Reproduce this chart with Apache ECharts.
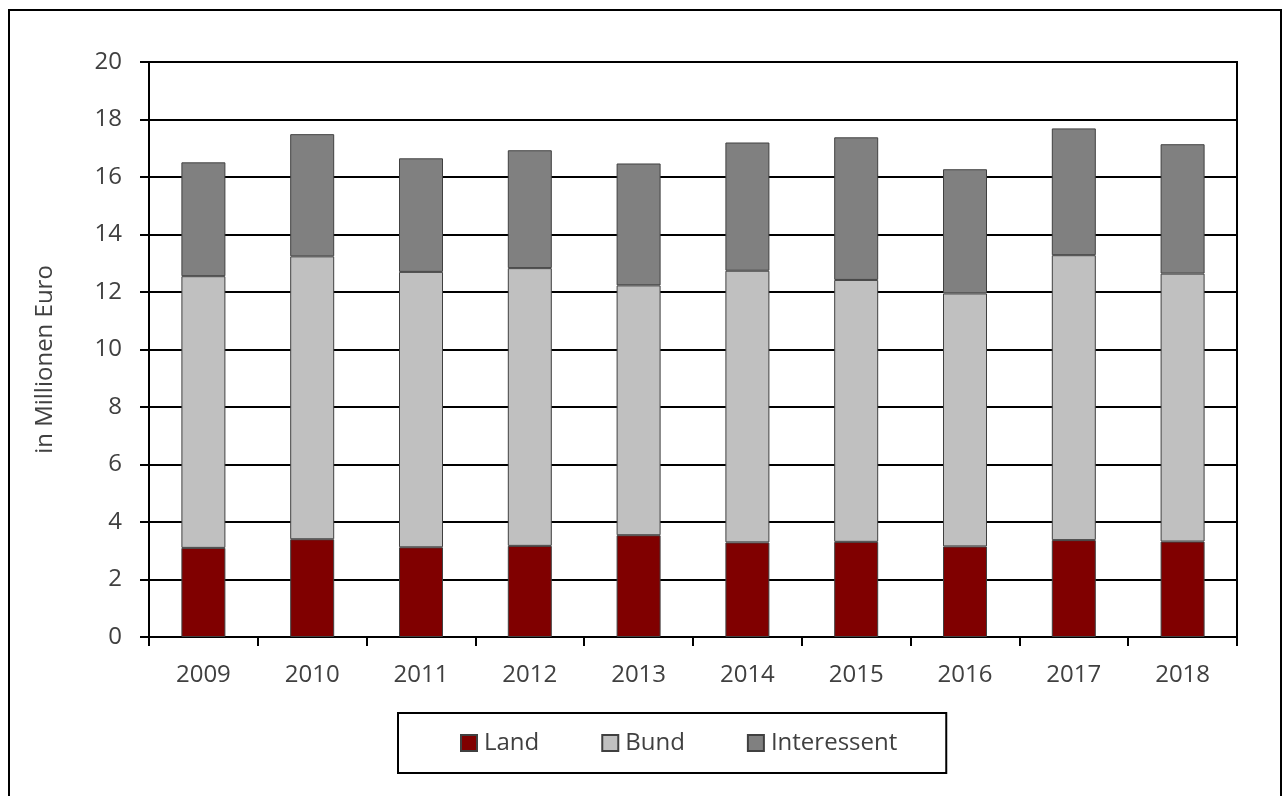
<!DOCTYPE html>
<html>
<head>
<meta charset="utf-8">
<script src="https://cdn.jsdelivr.net/npm/echarts@6/dist/echarts.min.js"></script>
<style>
html,body{margin:0;padding:0;background:#fff;}
#chart{width:1288px;height:796px;}
</style>
</head>
<body>
<div id="chart"></div>
<script>
const years = ['2009','2010','2011','2012','2013','2014','2015','2016','2017','2018'];
const land = [3.10, 3.40, 3.12, 3.17, 3.54, 3.29, 3.31, 3.15, 3.37, 3.32];
const bund = [9.45, 9.84, 9.58, 9.66, 8.69, 9.45, 9.11, 8.80, 9.91, 9.32];
const interessent = [3.96, 4.25, 3.95, 4.10, 4.24, 4.46, 4.96, 4.32, 4.41, 4.50];
const seriesNames = ['Land', 'Bund', 'Interessent'];
const yAxisName = 'in Millionen Euro';

const FONT = '"Open Sans", "Liberation Sans", sans-serif';
const TXT = '#404040';
const colors = ['#800000', '#C0C0C0', '#808080'];
const values = [land, bund, interessent];

const chart = echarts.init(document.getElementById('chart'), null, {renderer: 'canvas'});
chart.setOption({
  animation: false,
  backgroundColor: '#fff',
  graphic: [{
    type: 'rect',
    shape: {x: 9, y: 10, width: 1272, height: 820},
    style: {fill: 'none', stroke: '#000', lineWidth: 2},
    silent: true
  }],
  grid: {
    left: 149, top: 62, right: 51, bottom: 159,
    show: true, borderColor: '#000', borderWidth: 2, backgroundColor: 'transparent'
  },
  legend: {
    data: seriesNames,
    left: 398, top: 713,
    padding: [18, 49, 18, 62],
    borderColor: '#000', borderWidth: 2,
    itemWidth: 16, itemHeight: 16, itemGap: 62,
    icon: 'rect',
    textStyle: {fontFamily: FONT, fontSize: 24, color: TXT, padding: [0, 0, 0, 2]}
  },
  xAxis: {
    type: 'category',
    data: years,
    axisLine: {lineStyle: {color: '#000', width: 2}},
    axisTick: {show: true, length: 9, lineStyle: {color: '#000', width: 2}},
    axisLabel: {fontFamily: FONT, fontSize: 24, color: TXT, margin: 26},
    splitLine: {show: false}
  },
  yAxis: {
    type: 'value',
    min: 0, max: 20, interval: 2,
    name: yAxisName,
    nameLocation: 'middle',
    nameGap: 92,
    nameTextStyle: {fontFamily: FONT, fontSize: 24, color: TXT, padding: [0, 20, 0, 0]},
    axisLine: {show: true, lineStyle: {color: '#000', width: 2}},
    axisTick: {show: true, length: 9, lineStyle: {color: '#000', width: 2}},
    axisLabel: {fontFamily: FONT, fontSize: 24, color: TXT, margin: 27},
    splitLine: {lineStyle: {color: '#000', width: 2}}
  },
  series: seriesNames.map((name, i) => ({
    name: name,
    type: 'bar',
    stack: 'total',
    barWidth: 44,
    data: values[i],
    itemStyle: {color: colors[i], borderColor: '#404040', borderWidth: 1}
  }))
});
</script>
</body>
</html>
